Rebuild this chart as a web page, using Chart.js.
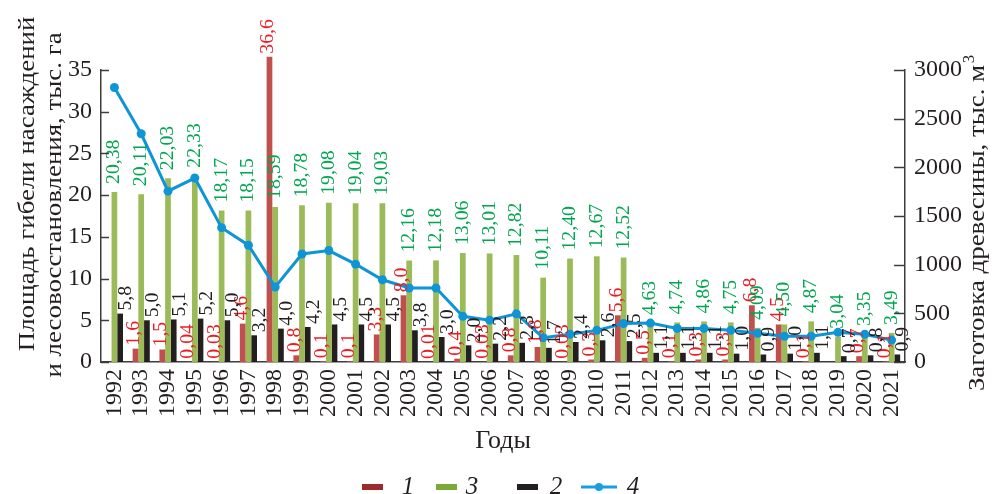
<!DOCTYPE html>
<html>
<head>
<meta charset="utf-8">
<script src="https://cdn.jsdelivr.net/npm/chart.js@4.4.0/dist/chart.umd.min.js"></script>
<style>
  html, body { margin: 0; padding: 0; background: #fff; }
  #wrap { width: 992px; height: 494px; position: relative; }
  .probe { font-family: 'Liberation Serif'; position: absolute; left: -999px; }
</style>
</head>
<body>
<div class="probe">Годы 0123456789 <i>1234</i></div>
<div id="wrap"><canvas id="chart"></canvas></div>
<script>
const years = ['1992', '1993', '1994', '1995', '1996', '1997', '1998', '1999', '2000', '2001',
    '2002', '2003', '2004', '2005', '2006', '2007', '2008', '2009', '2010', '2011',
    '2012', '2013', '2014', '2015', '2016', '2017', '2018', '2019', '2020', '2021'];

// 1 - площадь гибели насаждений, тыс. га
const lossArea = [null, 1.6, 1.5, 0.04, 0.03, 4.6, 36.6, 0.8, 0.1, 0.1,
    3.3, 8.0, 0.01, 0.4, 0.03, 0.8, 1.8, 0.03, 0.3, 5.6,
    0.5, 0.1, 0.3, 0.3, 6.8, 4.5, 0.1, null, 0.7, 0.1];

// 3 - лесовосстановление, тыс. га
const reforestArea = [20.38, 20.11, 22.03, 22.33, 18.17, 18.15, 18.59, 18.78, 19.08, 19.04,
    19.03, 12.16, 12.18, 13.06, 13.01, 12.82, 10.11, 12.40, 12.67, 12.52,
    4.63, 4.74, 4.86, 4.75, 4.09, 4.50, 4.87, 3.04, 3.35, 3.49];

// 2
const series2 = [5.8, 5.0, 5.1, 5.2, 5.0, 3.2, 4.0, 4.2, 4.5, 4.5,
    4.5, 3.8, 3.0, 2.0, 2.2, 2.3, 1.7, 2.4, 2.6, 2.5,
    1.1, 1.1, 1.1, 1.0, 0.9, 1.0, 1.1, 0.7, 0.8, 0.9];

// 4 - заготовка древесины, тыс. м3
const harvest = [2820, 2345, 1755, 1890, 1380, 1200, 770, 1110, 1145, 1005,
    845, 760, 760, 470, 430, 495, 250, 285, 325, 395,
    400, 345, 345, 325, 295, 265, 265, 305, 285, 225];

const leftTicks = [0, 5, 10, 15, 20, 25, 30, 35];
const rightTicks = [0, 500, 1000, 1500, 2000, 2500, 3000];

const serif = "'Liberation Serif', serif";
const ink = '#231f20';
const axisColor = '#3d3d3d';

const fmtLoss = v => (v < 0.095 ? v.toFixed(2) : v.toFixed(1));

// value labels, rotated, above each bar
const valueLabels = {
    id: 'valueLabels',
    afterDatasetsDraw(chart) {
        const ctx = chart.ctx;
        const specs = [
            { ds: 0, color: '#ed1c24', dx: -1, gap: 3, fmt: fmtLoss },
            { ds: 1, color: '#00a650', dx: 0, gap: 8, fmt: v => v.toFixed(2) },
            { ds: 2, color: ink, dx: 6, gap: 3, fmt: v => v.toFixed(1) }
        ];
        ctx.save();
        ctx.font = `19px ${serif}`;
        ctx.textAlign = 'left';
        ctx.textBaseline = 'middle';
        specs.forEach(s => {
            const meta = chart.getDatasetMeta(s.ds);
            const data = chart.data.datasets[s.ds].data;
            meta.data.forEach((bar, i) => {
                const v = data[i];
                if (v == null) return;
                ctx.save();
                ctx.translate(bar.x + s.dx, bar.y - s.gap);
                ctx.rotate(-Math.PI / 2);
                ctx.scale(1.04, 1);
                ctx.fillStyle = s.color;
                ctx.fillText(s.fmt(v).replace('.', ','), 0, 0);
                ctx.restore();
            });
        });
        ctx.restore();
    }
};

// inner tick marks, axis titles and legend
const decorations = {
    id: 'decorations',
    afterDraw(chart) {
        const ctx = chart.ctx;
        const yL = chart.scales.y;
        const yR = chart.scales.y1;
        const area = chart.chartArea;
        ctx.save();
        ctx.strokeStyle = axisColor;
        ctx.lineWidth = 1.5;
        leftTicks.forEach(t => {
            const py = Math.round(yL.getPixelForValue(t)) + 0.5;
            ctx.beginPath();
            ctx.moveTo(area.left, py);
            ctx.lineTo(area.left + 8, py);
            ctx.stroke();
        });
        rightTicks.forEach(t => {
            const py = Math.round(yR.getPixelForValue(t)) + 0.5;
            ctx.beginPath();
            ctx.moveTo(area.right, py);
            ctx.lineTo(area.right - 11, py);
            ctx.stroke();
        });

        // titles
        ctx.fillStyle = ink;
        ctx.textAlign = 'center';
        ctx.textBaseline = 'middle';
        const vText = (text, x, y, stretch) => {
            ctx.save();
            ctx.translate(x, y);
            ctx.rotate(-Math.PI / 2);
            ctx.scale(stretch, 1);
            ctx.fillText(text, 0, 0);
            ctx.restore();
        };
        ctx.font = `24px ${serif}`;
        vText('Площадь гибели насаждений', 28, 184, 1.12);
        vText('и лесовосстановления, тыс. га', 55, 205, 1.12);

        const rt = 'Заготовка древесины, тыс. м';
        const w = ctx.measureText(rt).width * 1.12;
        vText(rt, 978, 228, 1.12);
        ctx.font = `17px ${serif}`;
        ctx.save();
        ctx.translate(970, 228 - w / 2 - 6);
        ctx.rotate(-Math.PI / 2);
        ctx.fillText('3', 0, 0);
        ctx.restore();

        // legend
        const ly = 487;
        const items = [
            { x: 362, color: '#9e2b2c', label: '1', tx: 408 },
            { x: 436, color: '#7aa938', label: '3', tx: 472 },
            { x: 517, color: ink, label: '2', tx: 556 }
        ];
        ctx.font = `italic 25px ${serif}`;
        items.forEach(it => {
            ctx.fillStyle = it.color;
            ctx.fillRect(it.x, ly - 3, 21, 6);
            ctx.fillStyle = ink;
            ctx.fillText(it.label, it.tx, ly);
        });
        ctx.strokeStyle = '#1a9ee0';
        ctx.lineWidth = 3;
        ctx.beginPath();
        ctx.moveTo(581, ly);
        ctx.lineTo(617, ly);
        ctx.stroke();
        ctx.fillStyle = '#1a9ee0';
        ctx.beginPath();
        ctx.arc(599, ly, 4, 0, Math.PI * 2);
        ctx.fill();
        ctx.fillStyle = ink;
        ctx.fillText('4', 633, ly);
        ctx.restore();
    }
};

function draw() {
    const ctx = document.getElementById('chart').getContext('2d');
    new Chart(ctx, {
        type: 'bar',
        data: {
            labels: years,
            datasets: [{
                label: '1',
                data: lossArea,
                backgroundColor: '#c0504d',
                yAxisID: 'y',
                clip: false,
                order: 1
            }, {
                label: '3',
                data: reforestArea,
                backgroundColor: '#9bbb59',
                yAxisID: 'y',
                order: 1
            }, {
                label: '2',
                data: series2,
                backgroundColor: ink,
                yAxisID: 'y',
                order: 1
            }, {
                type: 'line',
                label: '4',
                data: harvest,
                borderColor: '#0f94d6',
                backgroundColor: '#0f94d6',
                borderWidth: 3,
                pointRadius: 4.5,
                pointBackgroundColor: '#0f94d6',
                pointBorderWidth: 0,
                tension: 0,
                yAxisID: 'y1',
                order: 0
            }]
        },
        options: {
            responsive: true,
            maintainAspectRatio: false,
            animation: false,
            categoryPercentage: 0.64,
            barPercentage: 1.0,
            layout: { padding: { top: 70, left: 0, right: 0, bottom: 0 } },
            plugins: {
                legend: { display: false },
                tooltip: { enabled: false }
            },
            scales: {
                x: {
                    offset: true,
                    grid: { display: false, drawTicks: false },
                    border: { display: true, color: axisColor, width: 1.5 },
                    ticks: {
                        autoSkip: false,
                        minRotation: 90,
                        maxRotation: 90,
                        padding: 7,
                        color: ink,
                        font: { family: serif, size: 24 }
                    },
                    title: {
                        display: true,
                        text: 'Годы',
                        color: ink,
                        font: { family: serif, size: 26 },
                        padding: { top: 0, bottom: 37 }
                    },
                    afterFit: s => { s.height = 132; }
                },
                y: {
                    position: 'left',
                    min: 0,
                    max: 35,
                    grid: { display: false, drawTicks: false },
                    border: { display: true, color: axisColor, width: 1.5 },
                    ticks: {
                        stepSize: 5,
                        padding: 9,
                        color: ink,
                        font: { family: serif, size: 24 },
                        callback: v => String(v)
                    },
                    afterFit: s => { s.width = 101; }
                },
                y1: {
                    position: 'right',
                    min: 0,
                    max: 3000,
                    grid: { display: false, drawTicks: false },
                    border: { display: true, color: axisColor, width: 1.5 },
                    ticks: {
                        stepSize: 500,
                        padding: 9,
                        color: ink,
                        font: { family: serif, size: 24 },
                        callback: v => String(v)
                    },
                    afterFit: s => { s.width = 87; }
                }
            }
        },
        plugins: [valueLabels, decorations]
    });
}

Promise.all([
    document.fonts.load("24px 'Liberation Serif'"),
    document.fonts.load("italic 24px 'Liberation Serif'")
]).then(draw, draw);
</script>
</body>
</html>
